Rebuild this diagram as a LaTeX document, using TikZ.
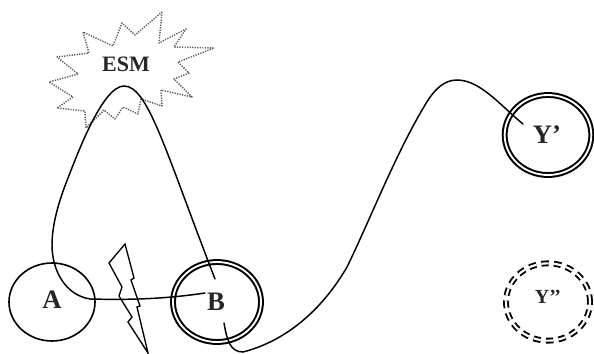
\documentclass[tikz,border=0pt]{standalone}
\usepackage{fontspec}
\setmainfont{Liberation Serif}
\usetikzlibrary{shapes.geometric}
\tikzset{
  x=0.75pt,y=-0.75pt,
  blob/.style={draw,ellipse,inner sep=0pt,line width=1.2pt},
  dbl/.style={draw=black,ellipse,inner sep=0pt,line width=1.5pt,double=white,double distance=1.4pt},
  lbl/.style={text=black!85},
  wire/.style={line width=1.1pt,line cap=round},
  star/.style={draw=black!65,line width=1.1pt,dash pattern=on 0.9pt off 1pt,line join=round},
  dsh/.style={draw=black,ellipse,inner sep=0pt,line width=1.4pt,double=white,double distance=1.6pt,dash pattern=on 5.5pt off 3.9pt},
}
\begin{document}
\begin{tikzpicture}
\useasboundingbox (0,0) rectangle (594,354);
\draw[star] (162,12)--(159,43)--(186,29)--(174,47)--(214,48)--(178,62)--(189,73)--(174,79)--(192,97)--(161,90)--(162,106)--(141,99)--(138,114)--(123,107)--(115,119)--(104,110)--(94,120)--(86,128)--(85,111)--(57,108)--(73,97)--(49,82)--(78,74)--(57,57)--(89,53)--(83,32)--(113,46)--(122,23)--(135,35)--cycle;
\node[lbl,font=\fontsize{16.5}{18}\selectfont\bfseries] (esm) at (126,64) {ESM};
\node[blob,minimum width=64.5pt,minimum height=58.5pt] (a) at (52,302) {};
\node[lbl,font=\fontsize{20}{22}\selectfont\bfseries] at (52,300) {A};
\node[dbl,minimum width=66pt,minimum height=60pt] (b) at (217,302) {};
\node[lbl,font=\fontsize{20}{22}\selectfont\bfseries] at (216,302) {B};
\node[dbl,minimum width=65pt,minimum height=60pt] (y1) at (548,135) {};
\node[lbl,font=\fontsize{20}{22}\selectfont\bfseries] at (547,135) {Y’};
\node[dsh,minimum width=63pt,minimum height=58pt] (y2) at (548,302) {};
\node[lbl,font=\fontsize{15}{17}\selectfont\bfseries] at (548,297) {Y’’};
\coordinate (b1) at (205,293);
\coordinate (b2) at (215,279);
\coordinate (b3) at (224,323);
\coordinate (y1in) at (523,124);
\draw[wire] (b1) .. controls (165,299) and (130,300) .. (90,299)
  .. controls (65,295) and (52,270) .. (52,245)
  .. controls (52,222) and (60.8,196) .. (68,178)
  .. controls (76,158) and (102,86) .. (124,86)
  .. controls (148,86) and (165,150) .. (b2);
\draw[wire] (b3) .. controls (227,340) and (230,352) .. (243,352)
  .. controls (290,340) and (325,305) .. (347,267)
  .. controls (370,220) and (395,155) .. (425,105)
  .. controls (435,88) and (445,80) .. (457,80)
  .. controls (480,80) and (500,105) .. (y1in);
\draw[line width=1pt,line join=miter] (125,244)--(109,263)--(122,287)--(119,296)--(132,317)--(128,322)--(148,353)--(137,307)--(140,306)--(131,280)--(134,278)--cycle;
\end{tikzpicture}
\end{document}
